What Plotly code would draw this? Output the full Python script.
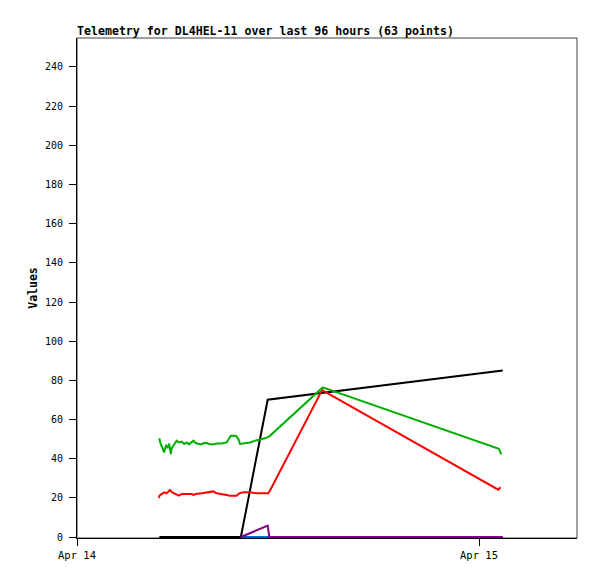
import plotly.graph_objects as go

# ---- data ----
green_t = ["2024-04-14 04:55", "2024-04-14 04:58", "2024-04-14 05:05", "2024-04-14 05:12",
           "2024-04-14 05:19", "2024-04-14 05:25", "2024-04-14 05:30", "2024-04-14 05:36",
           "2024-04-14 05:39", "2024-04-14 05:49", "2024-04-14 05:57", "2024-04-14 06:05",
           "2024-04-14 06:15", "2024-04-14 06:24", "2024-04-14 06:34", "2024-04-14 06:41",
           "2024-04-14 06:51", "2024-04-14 06:57", "2024-04-14 07:05", "2024-04-14 07:14",
           "2024-04-14 07:24", "2024-04-14 07:35", "2024-04-14 07:44", "2024-04-14 07:53",
           "2024-04-14 08:08", "2024-04-14 08:20", "2024-04-14 08:38", "2024-04-14 08:56",
           "2024-04-14 09:05", "2024-04-14 09:11", "2024-04-14 09:29", "2024-04-14 09:38",
           "2024-04-14 09:44", "2024-04-14 10:02", "2024-04-14 10:20", "2024-04-14 10:38",
           "2024-04-14 10:56", "2024-04-14 11:13", "2024-04-14 11:29", "2024-04-14 14:40",
           "2024-04-15 01:11", "2024-04-15 01:15", "2024-04-15 01:20"]
green_v = [50.4, 48.3, 45.8, 43.2, 47.0, 45.3, 47.7, 42.4, 45.3, 47.5, 49.2, 48.3,
           48.7, 47.5, 48.3, 47.3, 48.7, 49.2, 48.0, 47.5, 47.3, 48.0, 48.0, 47.5,
           47.3, 47.7, 47.8, 48.3, 50.4, 51.7, 51.7, 50.0, 47.5, 47.8, 48.3, 49.2,
           49.7, 50.4, 51.4, 76.4, 45.0, 43.2, 42.2]

red_t = ["2024-04-14 04:54", "2024-04-14 04:55", "2024-04-14 05:04", "2024-04-14 05:13",
         "2024-04-14 05:21", "2024-04-14 05:33", "2024-04-14 05:41", "2024-04-14 05:49",
         "2024-04-14 05:57", "2024-04-14 06:05", "2024-04-14 06:15", "2024-04-14 06:27",
         "2024-04-14 06:39", "2024-04-14 06:51", "2024-04-14 06:57", "2024-04-14 07:05",
         "2024-04-14 07:27", "2024-04-14 07:50", "2024-04-14 08:08", "2024-04-14 08:20",
         "2024-04-14 08:38", "2024-04-14 08:56", "2024-04-14 09:08", "2024-04-14 09:32",
         "2024-04-14 09:41", "2024-04-14 09:56", "2024-04-14 10:20", "2024-04-14 10:44",
         "2024-04-14 11:07", "2024-04-14 11:25", "2024-04-14 11:31", "2024-04-14 14:38",
         "2024-04-15 01:09", "2024-04-15 01:17"]
red_v = [19.9, 21.1, 22.0, 22.8, 22.3, 24.0, 22.8, 22.3, 21.4, 21.1, 22.0, 22.0,
         22.0, 22.0, 21.4, 22.0, 22.3, 22.8, 23.3, 22.3, 22.0, 21.4, 21.1, 21.1,
         22.3, 22.8, 22.8, 22.3, 22.3, 22.3, 23.6, 75.0, 24.2, 25.4]

black_t = ["2024-04-14 04:55", "2024-04-14 09:47", "2024-04-14 11:23",
           "2024-04-14 14:40", "2024-04-15 01:25"]
black_v = [0, 0, 70.1, 73.5, 85.0]

blue_t = ["2024-04-14 09:47", "2024-04-14 11:23", "2024-04-14 11:29", "2024-04-15 01:25"]
blue_v = [0, 0, 0, 0]

purple_t = ["2024-04-14 09:47", "2024-04-14 11:23", "2024-04-14 11:29", "2024-04-15 01:25"]
purple_v = [0, 5.8, 0, 0]

title_text = "Telemetry for DL4HEL-11 over last 96 hours (63 points)"
x_range = ["2024-04-14 00:00", "2024-04-15 05:51"]
y_range = [-0.5, 254.8]
y_ticks = [0, 20, 40, 60, 80, 100, 120, 140, 160, 180, 200, 220, 240]

fig = go.Figure()
series = [
    (black_t, black_v, "#000000"),
    (red_t, red_v, "#ff0000"),
    (green_t, green_v, "#00b000"),
    (blue_t, blue_v, "#0066cc"),
    (purple_t, purple_v, "#800080"),
]
for t, v, c in series:
    fig.add_trace(go.Scatter(x=t, y=v, mode="lines", line=dict(color=c, width=2),
                             cliponaxis=False, showlegend=False, hoverinfo="skip"))

W, H = 589, 571  # page body adds an 8px offset
mono = "DejaVu Sans Mono"
fig.update_layout(
    width=W, height=H,
    margin=dict(l=69, r=20, t=30, b=41, autoexpand=False),
    paper_bgcolor="white", plot_bgcolor="white",
    title=dict(text="<b>" + title_text + "</b>", x=69 / W, xanchor="left",
               y=1 - 23 / H, yanchor="middle",
               font=dict(family=mono, size=11.6, color="black")),
    font=dict(family=mono, size=10, color="black"),
    xaxis=dict(range=x_range, type="date", tickformat="%b %d",
               tick0="2024-04-14", dtick=86400000, automargin=False,
               showgrid=False, zeroline=False, showline=True, linecolor="black",
               linewidth=1, ticks="outside", ticklen=7, tickcolor="black",
               tickfont=dict(family=mono, size=10.5), layer="below traces"),
    yaxis=dict(range=y_range, tickvals=y_ticks, showgrid=False, zeroline=False,
               automargin=False,
               showline=True, linecolor="black", linewidth=1, ticks="outside",
               ticklen=7, tickcolor="black", ticklabelstandoff=4,
               tickfont=dict(family=mono, size=10), layer="below traces",
               title=dict(text="<b>Values</b>", font=dict(family=mono, size=11.5),
                          standoff=4)),
    shapes=[dict(type="rect", xref="paper", yref="paper", x0=0, y0=0, x1=1, y1=1,
                 line=dict(color="#404040", width=1), layer="below")],
)

fig.write_html("out.html")
